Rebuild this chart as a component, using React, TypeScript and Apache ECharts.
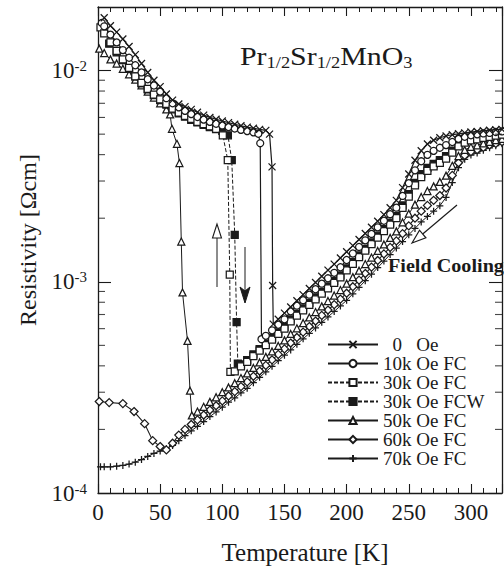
import React, { useEffect, useRef } from "react";
import * as echarts from "echarts";

const FONT = "Liberation Serif";
const INK = "#1a1a1a";

const seriesNames = [
  "\u20020\u2002 Oe",
  "10k Oe FC",
  "30k Oe FC",
  "30k Oe FCW",
  "50k Oe FC",
  "60k Oe FC",
  "70k Oe FC",
];

const X_MIN = 0;
const X_MAX = 325;
const Y_MIN = 1e-4;
const Y_MAX = 2e-2;
const yMinorTicks = [
  2e-4, 3e-4, 4e-4, 5e-4, 6e-4, 7e-4, 8e-4, 9e-4,
  2e-3, 3e-3, 4e-3, 5e-3, 6e-3, 7e-3, 8e-3, 9e-3,
];

// [T (K), resistivity (Ohm cm)]
const data0Oe = [
  [5, 1.78e-2], [10, 1.63e-2], [15, 1.52e-2], [20, 1.41e-2], [25, 1.3e-2], [30, 1.19e-2], [35, 1.08e-2],
  [40, 9.8e-3], [45, 9.0e-3], [50, 8.4e-3], [55, 7.75e-3], [60, 7.25e-3], [65, 6.95e-3], [70, 6.75e-3],
  [75, 6.55e-3], [80, 6.35e-3], [85, 6.15e-3], [90, 6.0e-3], [95, 5.88e-3], [100, 5.77e-3], [105, 5.67e-3],
  [110, 5.57e-3], [115, 5.48e-3], [120, 5.4e-3], [125, 5.33e-3], [130, 5.27e-3], [135, 5.21e-3],
  [138, 5.0e-3], [140, 3.5e-3], [140.5, 9.6e-4], [141, 6.3e-4],
  [145, 6.65e-4], [150, 7.11e-4], [155, 7.6e-4], [160, 8.13e-4], [165, 8.69e-4], [170, 9.29e-4],
  [175, 9.93e-4], [180, 1.062e-3], [185, 1.135e-3], [190, 1.213e-3], [195, 1.297e-3], [200, 1.387e-3],
  [205, 1.483e-3], [210, 1.585e-3], [215, 1.694e-3], [220, 1.811e-3], [225, 1.936e-3], [230, 2.08e-3],
  [235, 2.24e-3], [240, 2.43e-3], [245, 2.79e-3], [250, 3.24e-3], [255, 3.76e-3], [260, 4.17e-3],
  [265, 4.49e-3], [270, 4.68e-3], [275, 4.81e-3], [280, 4.9e-3], [285, 4.97e-3], [290, 5.02e-3],
  [295, 5.07e-3], [300, 5.12e-3], [305, 5.15e-3], [310, 5.19e-3], [315, 5.22e-3], [320, 5.25e-3], [325, 5.27e-3],
];

const data10k = [
  [3, 1.68e-2], [5, 1.62e-2], [10, 1.48e-2], [15, 1.36e-2], [20, 1.25e-2], [25, 1.15e-2], [30, 1.06e-2],
  [35, 9.8e-3], [40, 9.1e-3], [45, 8.5e-3], [50, 7.95e-3], [55, 7.4e-3], [60, 7.0e-3], [65, 6.7e-3],
  [70, 6.45e-3], [75, 6.22e-3], [80, 6.03e-3], [85, 5.86e-3], [90, 5.72e-3], [95, 5.6e-3], [100, 5.5e-3],
  [105, 5.4e-3], [110, 5.32e-3], [115, 5.24e-3], [120, 5.17e-3], [125, 5.1e-3], [129, 5.02e-3],
  [130.5, 4.53e-3], [131.5, 5.35e-4],
  [135, 5.55e-4], [140, 5.89e-4], [145, 6.26e-4], [150, 6.64e-4], [155, 7.25e-4], [160, 7.71e-4],
  [165, 8.18e-4], [170, 8.69e-4], [175, 9.22e-4], [180, 9.8e-4], [185, 1.039e-3], [190, 1.103e-3],
  [195, 1.172e-3], [200, 1.268e-3], [205, 1.361e-3], [210, 1.462e-3], [215, 1.571e-3], [220, 1.685e-3],
  [225, 1.811e-3], [230, 1.945e-3], [235, 2.089e-3], [240, 2.243e-3], [245, 2.55e-3], [250, 2.93e-3],
  [255, 3.37e-3], [260, 3.72e-3], [265, 3.99e-3], [270, 4.17e-3], [275, 4.31e-3], [280, 4.44e-3],
  [285, 4.59e-3], [290, 4.75e-3], [295, 4.86e-3], [300, 4.94e-3], [305, 4.99e-3], [310, 5.04e-3],
  [315, 5.07e-3], [320, 5.12e-3], [325, 5.15e-3],
];

const data30kFC = [
  [2, 1.6e-2], [5, 1.5e-2], [10, 1.36e-2], [15, 1.24e-2], [20, 1.13e-2], [25, 1.03e-2], [30, 9.4e-3],
  [35, 8.75e-3], [40, 8.2e-3], [45, 7.7e-3], [50, 7.3e-3], [55, 6.95e-3], [60, 6.6e-3], [65, 6.33e-3],
  [70, 6.1e-3], [75, 5.9e-3], [80, 5.72e-3], [85, 5.58e-3], [90, 5.45e-3], [95, 5.3e-3],
  [100.4, 4.94e-3], [104.4, 3.77e-3], [106, 1.08e-3], [106.5, 3.75e-4],
  [110, 3.77e-4], [115, 3.98e-4], [120, 4.18e-4], [125, 4.45e-4], [130, 4.72e-4], [135, 5.01e-4],
  [140, 5.32e-4], [145, 5.66e-4], [150, 6.0e-4], [155, 6.5e-4], [160, 6.91e-4], [165, 7.33e-4],
  [170, 7.78e-4], [175, 8.26e-4], [180, 8.78e-4], [185, 9.31e-4], [190, 9.88e-4], [195, 1.05e-3],
  [200, 1.133e-3], [205, 1.216e-3], [210, 1.307e-3], [215, 1.404e-3], [220, 1.506e-3], [225, 1.619e-3],
  [230, 1.738e-3], [235, 1.867e-3], [240, 2.004e-3], [245, 2.24e-3], [250, 2.53e-3], [255, 2.86e-3],
  [260, 3.13e-3], [265, 3.35e-3], [270, 3.52e-3], [275, 3.66e-3], [280, 3.83e-3], [285, 4.09e-3],
  [290, 4.38e-3], [295, 4.56e-3], [300, 4.67e-3], [305, 4.73e-3], [310, 4.8e-3], [315, 4.86e-3],
  [320, 4.92e-3], [325, 4.97e-3],
];

const data30kFCW = [
  [9, 1.34e-2], [15, 1.22e-2], [20, 1.12e-2], [25, 1.02e-2], [30, 9.4e-3], [35, 8.7e-3], [40, 8.15e-3],
  [45, 7.65e-3], [50, 7.25e-3], [55, 6.9e-3], [60, 6.55e-3], [65, 6.28e-3], [70, 6.05e-3], [75, 5.85e-3],
  [80, 5.68e-3], [85, 5.53e-3], [90, 5.4e-3], [95, 5.28e-3], [100, 5.18e-3],
  [104.5, 4.94e-3], [107.6, 3.77e-3], [110, 1.67e-3], [111.5, 6.45e-4], [112.5, 4.1e-4],
  [115, 4.06e-4], [120, 4.26e-4], [125, 4.53e-4], [130, 4.8e-4], [135, 5.1e-4], [140, 5.42e-4],
  [145, 5.76e-4], [150, 6.11e-4], [155, 6.63e-4], [160, 7.05e-4], [165, 7.48e-4], [170, 7.94e-4],
  [175, 8.43e-4], [180, 8.96e-4], [185, 9.5e-4], [190, 1.009e-3], [195, 1.071e-3], [200, 1.157e-3],
  [205, 1.242e-3], [210, 1.334e-3], [215, 1.433e-3], [220, 1.538e-3], [225, 1.652e-3], [230, 1.774e-3],
  [235, 1.906e-3], [240, 2.046e-3], [245, 2.3e-3], [250, 2.6e-3], [255, 2.94e-3], [260, 3.23e-3],
  [265, 3.46e-3], [270, 3.62e-3], [275, 3.77e-3], [280, 3.93e-3], [285, 4.18e-3], [290, 4.45e-3],
  [295, 4.61e-3], [300, 4.72e-3], [305, 4.78e-3], [310, 4.84e-3], [315, 4.9e-3], [320, 4.96e-3], [325, 5.0e-3],
];

const data50k = [
  [1, 1.27e-2], [5, 1.21e-2], [10, 1.13e-2], [15, 1.08e-2], [20, 1.02e-2], [25, 9.6e-3], [30, 9.05e-3],
  [35, 8.5e-3], [40, 7.95e-3], [45, 7.45e-3], [50, 7.0e-3], [55, 6.55e-3], [58, 6.2e-3],
  [59.5, 5.3e-3], [63.5, 4.5e-3], [65.5, 3.65e-3], [67, 1.55e-3], [68, 8.9e-4], [72, 5.25e-4],
  [74, 3.05e-4], [75.5, 2.33e-4],
  [80, 2.43e-4], [85, 2.56e-4], [90, 2.7e-4], [95, 2.84e-4], [100, 3.0e-4], [105, 3.16e-4],
  [110, 3.31e-4], [115, 3.5e-4], [120, 3.68e-4], [125, 3.91e-4], [130, 4.15e-4], [135, 4.41e-4],
  [140, 4.68e-4], [145, 4.97e-4], [150, 5.28e-4], [155, 5.66e-4], [160, 6.02e-4], [165, 6.38e-4],
  [170, 6.78e-4], [175, 7.19e-4], [180, 7.65e-4], [185, 8.11e-4], [190, 8.61e-4], [195, 9.14e-4],
  [200, 9.8e-4], [205, 1.052e-3], [210, 1.129e-3], [215, 1.213e-3], [220, 1.302e-3], [225, 1.399e-3],
  [230, 1.502e-3], [235, 1.614e-3], [240, 1.733e-3], [245, 1.91e-3], [250, 2.1e-3], [255, 2.32e-3],
  [260, 2.52e-3], [265, 2.69e-3], [270, 2.83e-3], [275, 2.97e-3], [280, 3.18e-3], [285, 3.54e-3],
  [290, 3.94e-3], [295, 4.21e-3], [300, 4.35e-3], [305, 4.43e-3], [310, 4.52e-3], [315, 4.6e-3],
  [320, 4.69e-3], [325, 4.75e-3],
];

const data60k = [
  [1, 2.71e-4], [9, 2.68e-4], [20, 2.65e-4], [29, 2.43e-4], [37.5, 2.13e-4], [44, 1.77e-4],
  [50, 1.66e-4], [55, 1.6e-4], [60, 1.72e-4], [65, 1.88e-4], [70, 2.0e-4], [75, 2.11e-4],
  [80, 2.22e-4], [85, 2.34e-4], [90, 2.47e-4], [95, 2.59e-4], [100, 2.73e-4], [105, 2.88e-4],
  [110, 3.02e-4], [115, 3.19e-4], [120, 3.36e-4], [125, 3.57e-4], [130, 3.78e-4], [135, 4.02e-4],
  [140, 4.27e-4], [145, 4.53e-4], [150, 4.81e-4], [155, 5.13e-4], [160, 5.45e-4], [165, 5.78e-4],
  [170, 6.14e-4], [175, 6.52e-4], [180, 6.93e-4], [185, 7.35e-4], [190, 7.8e-4], [195, 8.28e-4],
  [200, 8.83e-4], [205, 9.48e-4], [210, 1.018e-3], [215, 1.094e-3], [220, 1.174e-3], [225, 1.262e-3],
  [230, 1.355e-3], [235, 1.455e-3], [240, 1.562e-3], [245, 1.69e-3], [250, 1.84e-3], [255, 2.0e-3],
  [260, 2.16e-3], [265, 2.3e-3], [270, 2.43e-3], [275, 2.56e-3], [280, 2.78e-3], [285, 3.19e-3],
  [290, 3.66e-3], [295, 3.97e-3], [300, 4.13e-3], [305, 4.22e-3], [310, 4.33e-3], [315, 4.44e-3],
  [320, 4.52e-3], [325, 4.6e-3],
];

const data70k = [
  [2, 1.33e-4], [5, 1.33e-4], [10, 1.33e-4], [15, 1.34e-4], [20, 1.35e-4], [25, 1.37e-4], [30, 1.4e-4],
  [35, 1.44e-4], [40, 1.49e-4], [45, 1.54e-4], [50, 1.58e-4], [55, 1.62e-4], [60, 1.68e-4], [65, 1.77e-4],
  [70, 1.87e-4], [75, 1.97e-4], [80, 2.07e-4], [85, 2.18e-4], [90, 2.3e-4], [95, 2.42e-4], [100, 2.55e-4],
  [105, 2.69e-4], [110, 2.82e-4], [115, 2.98e-4], [120, 3.13e-4], [125, 3.33e-4], [130, 3.53e-4],
  [135, 3.75e-4], [140, 3.98e-4], [145, 4.23e-4], [150, 4.49e-4], [155, 4.76e-4], [160, 5.06e-4],
  [165, 5.37e-4], [170, 5.7e-4], [175, 6.05e-4], [180, 6.43e-4], [185, 6.82e-4], [190, 7.24e-4],
  [195, 7.69e-4], [200, 8.17e-4], [205, 8.77e-4], [210, 9.42e-4], [215, 1.012e-3], [220, 1.086e-3],
  [225, 1.167e-3], [230, 1.253e-3], [235, 1.346e-3], [240, 1.445e-3], [245, 1.55e-3], [250, 1.67e-3],
  [255, 1.79e-3], [260, 1.92e-3], [265, 2.04e-3], [270, 2.16e-3], [275, 2.29e-3], [280, 2.51e-3],
  [285, 2.95e-3], [290, 3.47e-3], [295, 3.8e-3], [300, 3.98e-3], [305, 4.07e-3], [310, 4.19e-3],
  [315, 4.31e-3], [320, 4.41e-3], [325, 4.5e-3],
];

const seriesData = [data0Oe, data10k, data30kFC, data30kFCW, data50k, data60k, data70k];

const CROSS = "path://M0,0L10,10M10,0L0,10";
const PLUS = "path://M5,0L5,10M0,5L10,5";

const styles = [
  { symbol: CROSS, fill: INK, size: 7, dash: "solid", width: 1.2 },
  { symbol: "circle", fill: "#fff", size: 7, dash: "solid", width: 1.2 },
  { symbol: "rect", fill: "#fff", size: 7, dash: [4, 2], width: 1 },
  { symbol: "rect", fill: INK, size: 7, dash: [4, 2], width: 1 },
  { symbol: "triangle", fill: "#fff", size: 7, dash: "solid", width: 1 },
  { symbol: "diamond", fill: "#fff", size: 8, dash: "solid", width: 1.1 },
  { symbol: PLUS, fill: INK, size: 7, dash: "solid", width: 1 },
];

export default function App() {
  const ref = useRef<HTMLDivElement>(null);

  useEffect(() => {
    const chart = echarts.init(ref.current as HTMLDivElement, null, { renderer: "svg" });

    const axisLine = { show: true, onZero: false, lineStyle: { color: INK, width: 1.3 } };
    const xTick = { show: true, inside: true, length: 9, lineStyle: { color: INK, width: 1.1 } };
    const xMinor = { show: true, splitNumber: 5, length: 5, lineStyle: { color: INK, width: 1 } };
    const yTick = { show: true, inside: true, length: 13, lineStyle: { color: INK, width: 1.1 } };

    const lineSeries = seriesNames.map((name, i) => ({
      name,
      type: "line",
      data: seriesData[i],
      symbol: styles[i].symbol,
      symbolSize: styles[i].size,
      showSymbol: true,
      showAllSymbol: true,
      clip: true,
      lineStyle: { color: INK, width: styles[i].width, type: styles[i].dash },
      itemStyle: { color: styles[i].fill, borderColor: INK, borderWidth: 1.25 },
      emphasis: { disabled: true },
      z: 10 - i,
    }));

    const minorTickSeries = [
      {
        type: "scatter",
        silent: true,
        clip: false,
        symbol: "rect",
        symbolSize: [7, 1.1],
        symbolOffset: [3.5, 0],
        itemStyle: { color: INK },
        data: yMinorTicks.map((v) => [X_MIN, v]),
        z: 20,
      },
      {
        type: "scatter",
        silent: true,
        clip: false,
        symbol: "rect",
        symbolSize: [7, 1.1],
        symbolOffset: [-3.5, 0],
        itemStyle: { color: INK },
        data: yMinorTicks.map((v) => [X_MAX, v]),
        z: 20,
      },
    ];

    const option = {
      animation: false,
      backgroundColor: "#fff",
      grid: { left: 98, right: 2, top: 7, bottom: 75, containLabel: false },
      legend: {
        data: seriesNames,
        orient: "vertical",
        left: 322,
        top: 330,
        itemWidth: 50,
        itemHeight: 9,
        itemGap: 0,
        itemTextGap: 9,
        selectedMode: false,
        textStyle: { fontFamily: FONT, fontSize: 19, color: INK },
      },
      xAxis: [
        {
          type: "value",
          position: "bottom",
          min: X_MIN,
          max: X_MAX,
          interval: 50,
          axisLine,
          axisTick: xTick,
          minorTick: xMinor,
          splitLine: { show: false },
          minorSplitLine: { show: false },
          axisLabel: { fontFamily: FONT, fontSize: 23, color: INK, margin: 8, showMaxLabel: false },
          name: "Temperature [K]",
          nameLocation: "middle",
          nameGap: 47,
          nameTextStyle: { fontFamily: FONT, fontSize: 25, color: INK, padding: [0, 0, 0, 10] },
        },
        {
          type: "value",
          position: "top",
          min: X_MIN,
          max: X_MAX,
          interval: 50,
          axisLine,
          axisTick: xTick,
          minorTick: xMinor,
          splitLine: { show: false },
          minorSplitLine: { show: false },
          axisLabel: { show: false },
        },
      ],
      yAxis: [
        {
          type: "log",
          logBase: 10,
          position: "left",
          min: Y_MIN,
          max: Y_MAX,
          axisLine,
          axisTick: yTick,
          splitLine: { show: false },
          axisLabel: {
            margin: 11,
            showMaxLabel: false,
            formatter: (v: number) => {
              const e = Math.log10(v);
              const r = Math.round(e);
              if (Math.abs(e - r) > 1e-6) return "";
              return "{b|10}{s|" + r + "}";
            },
            rich: {
              b: { fontFamily: FONT, fontSize: 23, color: INK, lineHeight: 24 },
              s: { fontFamily: FONT, fontSize: 15, color: INK, lineHeight: 12, verticalAlign: "top" },
            },
          },
          name: "Resistivity [\u03a9cm]",
          nameLocation: "middle",
          nameRotate: 90,
          nameGap: 58,
          nameTextStyle: { fontFamily: FONT, fontSize: 24, color: INK, padding: [0, 0, 0, 20] },
        },
        {
          type: "log",
          logBase: 10,
          position: "right",
          min: Y_MIN,
          max: Y_MAX,
          axisLine,
          axisTick: yTick,
          splitLine: { show: false },
          axisLabel: { show: false },
        },
      ],
      graphic: [
        {
          type: "text",
          x: 240,
          y: 41,
          scaleX: 1.15,
          z: 50,
          style: {
            text: "{m|Pr}{s|1/2}{m|Sr}{s|1/2}{m|MnO}{s|3}",
            align: "left",
            verticalAlign: "top",
            fill: INK,
            rich: {
              m: { fontFamily: FONT, fontSize: 26, lineHeight: 30, fill: INK },
              s: { fontFamily: FONT, fontSize: 16, lineHeight: 10, verticalAlign: "bottom", fill: INK },
            },
          },
        },
        {
          type: "text",
          x: 388,
          y: 257,
          scaleX: 1.12,
          z: 50,
          style: {
            text: "Field Cooling",
            fontFamily: FONT,
            fontSize: 18,
            fontWeight: "bold",
            fill: INK,
            align: "left",
            verticalAlign: "top",
          },
        },
        // field cooling arrow
        { type: "line", z: 50, shape: { x1: 457, y1: 205, x2: 422.7, y2: 234 }, style: { stroke: INK, lineWidth: 1.2 } },
        {
          type: "polygon",
          z: 50,
          shape: { points: [[412, 243], [425.9, 237.8], [419.5, 230.2]] },
          style: { fill: "#fff", stroke: INK, lineWidth: 1.2 },
        },
        // up arrow (cooling)
        { type: "line", z: 50, shape: { x1: 217, y1: 287, x2: 217, y2: 238 }, style: { stroke: INK, lineWidth: 1 } },
        {
          type: "polygon",
          z: 50,
          shape: { points: [[217, 224], [212.5, 238], [221.5, 238]] },
          style: { fill: "#fff", stroke: INK, lineWidth: 1.1 },
        },
        // down arrow (warming)
        { type: "line", z: 50, shape: { x1: 245, y1: 247, x2: 245, y2: 291 }, style: { stroke: INK, lineWidth: 1 } },
        {
          type: "polygon",
          z: 50,
          shape: { points: [[245, 303], [240, 287], [245, 291], [250, 287]] },
          style: { fill: INK, stroke: INK, lineWidth: 1 },
        },
      ],
      series: [...lineSeries, ...minorTickSeries],
    };

    chart.setOption(option as any);
    return () => chart.dispose();
  }, []);

  return (
    <div
      ref={ref}
      style={{ position: "fixed", left: 0, top: 0, width: 504, height: 570, background: "#fff" }}
    />
  );
}
